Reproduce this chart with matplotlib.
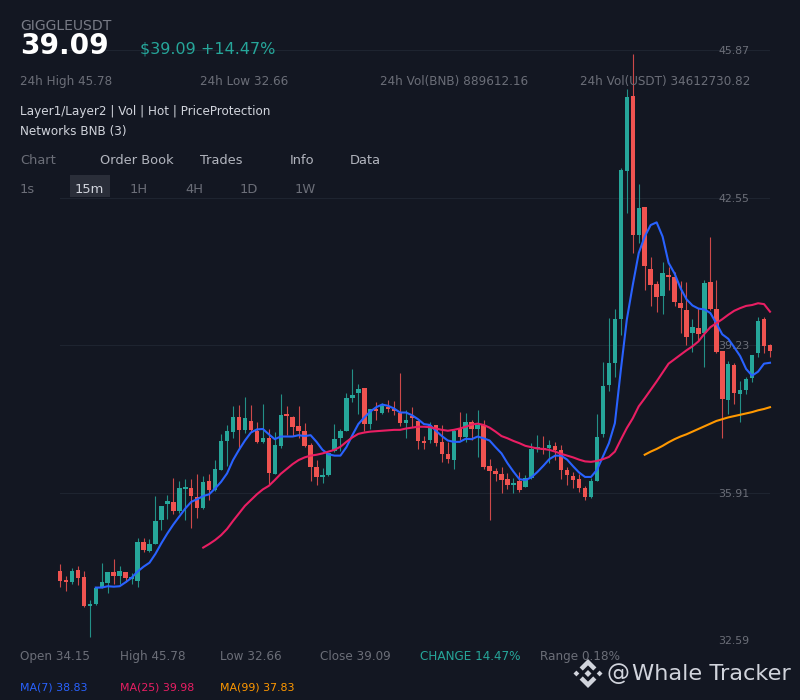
import matplotlib
matplotlib.use("Agg")
import matplotlib.pyplot as plt
from matplotlib.patches import Polygon, Rectangle
import numpy as np

BG = "#131722"
UP = "#26a69a"
DOWN = "#ef5350"
MA7_C = "#2962ff"
MA25_C = "#e91e63"
MA99_C = "#ff9800"

opens = [34.14,33.92,33.90,34.16,34.01,33.36,33.39,33.79,33.87,34.11,34.02,34.11,33.97,33.92,34.80,34.59,34.76,35.29,35.64,35.70,
 35.49,35.99,36.01,35.80,35.55,36.18,35.97,36.42,37.08,37.27,37.62,37.32,37.52,37.29,37.05,37.14,36.33,36.96,37.65,37.61,
 37.41,37.29,36.99,36.48,36.26,36.30,36.84,37.14,37.30,38.03,38.15,38.27,37.45,37.77,37.71,37.84,37.77,37.69,37.48,37.62,
 37.52,37.07,37.09,37.43,37.05,36.78,36.64,37.34,37.15,37.50,37.33,37.44,36.50,36.39,36.32,36.21,36.09,36.18,36.04,36.23,
 36.89,36.91,36.91,36.95,36.87,36.41,36.29,36.22,36.01,35.81,36.18,37.23,38.34,38.82,39.82,43.14,44.83,41.71,42.33,40.94,
 40.61,40.34,40.81,40.75,40.18,40.01,39.50,39.61,39.51,40.64,40.04,39.09,38.00,38.78,38.12,38.22,38.48,39.04,39.82,39.22]
highs = [34.29,34.04,34.20,34.25,34.14,33.50,33.77,34.32,34.12,34.41,34.26,34.13,34.09,34.89,34.88,34.86,35.82,35.61,35.85,36.23,
 36.18,36.21,36.21,36.32,36.28,36.33,36.64,37.23,37.44,37.86,37.89,38.05,37.88,37.50,37.90,37.33,37.28,38.12,37.86,37.63,
 37.86,37.47,37.02,36.64,36.46,36.81,37.45,37.33,38.16,38.70,38.35,38.27,37.80,37.94,37.92,37.99,37.96,38.59,37.77,37.83,
 37.54,37.18,37.50,37.44,37.43,37.05,37.34,37.73,37.71,37.54,37.77,37.54,36.66,36.46,36.48,36.34,36.23,36.38,36.30,37.02,
 37.21,37.19,37.10,37.04,36.98,36.48,36.38,36.33,36.05,36.23,37.68,38.84,39.83,40.04,43.21,44.99,45.78,42.85,42.34,41.22,
 40.66,41.09,40.98,40.88,40.66,40.64,39.82,40.06,40.70,41.65,40.70,39.10,38.86,38.82,38.41,38.52,39.01,39.86,39.86,39.26]
lows = [33.79,33.70,33.85,33.83,33.34,32.66,33.38,33.77,33.65,33.85,33.85,33.90,33.85,33.79,34.56,34.58,34.75,35.07,35.31,35.42,
 35.44,35.29,35.11,35.33,35.53,35.74,35.95,36.42,36.51,37.14,36.90,37.24,37.28,37.02,37.02,36.10,36.33,36.92,37.20,37.18,
 37.13,36.93,36.18,36.08,36.12,36.28,36.83,36.85,37.30,37.95,37.68,37.29,37.34,37.54,37.68,37.73,37.65,37.41,37.14,37.39,
 36.88,36.88,37.03,36.96,36.60,36.57,36.43,37.09,37.05,37.09,36.72,36.45,35.29,36.18,35.89,36.00,35.91,35.93,36.03,36.21,
 36.83,36.78,36.57,36.65,36.21,36.08,36.01,35.93,35.75,35.78,36.18,37.17,38.20,38.51,39.46,42.19,41.30,41.53,40.46,40.11,
 39.98,39.92,40.46,40.11,39.51,39.22,39.08,39.32,38.73,40.02,39.06,37.13,37.67,37.91,37.49,38.12,38.39,38.97,39.06,38.97]
closes = [33.92,33.90,34.14,33.99,33.36,33.38,33.75,33.89,34.11,34.03,34.14,33.98,33.99,34.80,34.62,34.74,35.27,35.61,35.72,35.49,
 36.01,36.03,35.82,35.56,36.14,35.96,36.45,37.06,37.29,37.62,37.32,37.59,37.32,37.05,37.14,36.35,36.98,37.65,37.63,37.38,
 37.30,36.96,36.49,36.27,36.28,36.79,37.12,37.30,38.04,38.10,38.24,37.46,37.78,37.74,37.86,37.78,37.74,37.47,37.55,37.59,
 37.08,37.02,37.43,37.03,36.77,36.66,37.30,37.15,37.49,37.33,37.42,36.49,36.39,36.33,36.20,36.08,36.12,35.97,36.23,36.90,
 36.91,36.87,36.98,36.86,36.42,36.30,36.20,36.01,35.81,36.16,37.16,38.30,38.82,39.82,43.18,44.81,41.71,42.32,41.00,40.59,
 40.32,40.85,40.75,40.19,40.06,39.42,39.63,39.48,40.62,40.05,39.07,38.01,38.80,38.14,38.21,38.46,39.00,39.76,39.20,39.09]

ma7 = [33.77,33.77,33.80,33.79,33.80,33.89,33.99,34.13,34.24,34.33,34.53,34.77,34.99,35.19,35.37,35.55,35.70,35.76,35.83,35.87,
 36.00,36.15,36.34,36.64,36.87,37.08,37.26,37.33,37.34,37.22,37.11,37.17,37.17,37.17,37.20,37.18,37.20,37.05,36.87,36.77,
 36.74,36.74,36.93,37.20,37.45,37.60,37.73,37.83,37.89,37.86,37.80,37.71,37.71,37.65,37.56,37.45,37.43,37.30,37.18,37.08,
 37.05,37.05,37.12,37.11,37.17,37.13,37.08,36.93,36.79,36.57,36.38,36.21,36.19,36.25,36.37,36.51,36.66,36.74,36.74,36.65,
 36.50,36.36,36.26,36.26,36.42,36.72,37.02,37.47,38.67,39.80,40.58,41.30,41.67,41.93,41.99,41.67,41.08,40.84,40.51,40.26,
 40.12,40.05,40.03,39.95,39.72,39.47,39.37,39.18,38.98,38.69,38.54,38.63,38.81,38.83]
ma25 = [34.67,34.75,34.84,34.95,35.09,35.27,35.44,35.61,35.74,35.87,35.98,36.06,36.19,36.33,36.44,36.55,36.64,36.70,36.74,36.76,
 36.79,36.83,36.87,36.94,37.05,37.15,37.23,37.26,37.28,37.29,37.30,37.31,37.32,37.32,37.35,37.37,37.39,37.39,37.38,37.35,
 37.32,37.30,37.32,37.35,37.39,37.44,37.46,37.43,37.37,37.28,37.18,37.13,37.07,37.02,36.96,36.93,36.90,36.89,36.87,36.83,
 36.78,36.74,36.70,36.65,36.61,36.60,36.62,36.66,36.71,36.83,37.10,37.36,37.58,37.85,38.03,38.22,38.41,38.61,38.81,38.91,
 39.01,39.11,39.20,39.31,39.48,39.63,39.72,39.81,39.91,40.00,40.06,40.11,40.13,40.17,40.15,39.98]
ma99 = [36.76,36.83,36.89,36.96,37.04,37.11,37.17,37.22,37.28,37.34,37.40,37.46,37.52,37.56,37.60,37.63,37.66,37.69,37.72,37.76,37.79,37.83]

price_ticks = [32.59, 35.91, 39.23, 42.55, 45.87]


def px(size):
    return size * 0.72


fig = plt.figure(figsize=(8, 7), dpi=100, facecolor=BG)
ax = fig.add_axes([60 / 800, 1 - 640 / 700, 710 / 800, 590 / 700])
ax.set_facecolor("none")
n = len(opens)
xs = np.arange(n)
ax.set_xlim(0, n - 1)
ax.set_ylim(price_ticks[0], price_ticks[-1])
for s in ax.spines.values():
    s.set_visible(False)
ax.set_xticks([])
ax.set_yticks(price_ticks)
ax.set_yticklabels([f"{p:.2f}" for p in price_ticks])
ax.yaxis.tick_right()
ax.tick_params(axis="y", length=0, pad=-37, labelsize=px(11), labelcolor="#6b6e78")
ax.set_axisbelow(True)
ax.grid(axis="y", color="#1e2430", lw=0.8)

o, h, l, c = map(np.array, (opens, highs, lows, closes))
colors = [UP if ci >= oi else DOWN for oi, ci in zip(o, c)]
ax.vlines(xs, l, h, colors=colors, lw=0.8, alpha=0.85, zorder=2, clip_on=False)
ax.bar(xs, np.maximum(np.abs(c - o), 0.04), bottom=np.minimum(o, c), width=0.75,
       color=colors, zorder=3, clip_on=False)
ax.plot(xs[6:], ma7, color=MA7_C, lw=1.5, zorder=5, clip_on=False, solid_joinstyle="round")
ax.plot(xs[24:], ma25, color=MA25_C, lw=1.5, zorder=5, clip_on=False, solid_joinstyle="round")
ax.plot(xs[98:], ma99, color=MA99_C, lw=1.5, zorder=5, clip_on=False, solid_joinstyle="round")

ov = fig.add_axes([0, 0, 1, 1], facecolor="none")
ov.set_xlim(0, 800)
ov.set_ylim(700, 0)
ov.axis("off")


def label(x, y, s, size, color, weight="normal"):
    ov.text(x, y, s, fontsize=px(size), color=color, fontweight=weight, va="baseline", ha="left")


GRAY = "#6b6e78"
GRAY2 = "#787b86"
LIGHT = "#d1d4dc"
label(20, 30, "GIGGLEUSDT", 14, GRAY2)
label(20, 54, "39.09", 28, "#ffffff", "bold")
label(140, 54, "$39.09 +14.47%", 16, UP)
for x, s in [(20, "24h High 45.78"), (200, "24h Low 32.66"),
             (380, "24h Vol(BNB) 889612.16"), (580, "24h Vol(USDT) 34612730.82")]:
    label(x, 85.3, s, 12, GRAY)
label(20, 115.3, "Layer1/Layer2 | Vol | Hot | PriceProtection", 12, LIGHT)
label(20, 135.3, "Networks BNB (3)", 12, LIGHT)
label(20, 164.4, "Chart", 13, GRAY)
for x, s in [(100, "Order Book"), (200, "Trades"), (290, "Info"), (350, "Data")]:
    label(x, 164.4, s, 13, "#b2b5be")
ov.add_patch(Rectangle((70, 175), 40, 22, facecolor="#2a2e39", edgecolor="none"))
for x, s, col in [(20, "1s", GRAY), (75, "15m", LIGHT), (130, "1H", GRAY),
                  (185, "4H", GRAY), (240, "1D", GRAY), (295, "1W", GRAY)]:
    label(x, 192.6, s, 13, col)
for x, s, col in [(20, "Open 34.15", GRAY), (120, "High 45.78", GRAY), (220, "Low 32.66", GRAY),
                  (320, "Close 39.09", GRAY), (420, "CHANGE 14.47%", UP), (540, "Range 0.18%", GRAY)]:
    label(x, 660.3, s, 12, col)
for x, s, col in [(20, "MA(7) 38.83", MA7_C), (120, "MA(25) 39.98", MA25_C), (220, "MA(99) 37.83", MA99_C)]:
    label(x, 690, s, 11, col)

# watermark logo
cx, cy, R = 588, 673.5, 14.5
logo_col = "#d1d4dc"
def diamond(dx, dy, hw):
    return [(cx + (dx + a) * R, cy - (dy + b) * R) for a, b in [(0, hw), (hw, 0), (0, -hw), (-hw, 0)]]
chev = [(0, 1), (0.58, 0.42), (0.36, 0.2), (0, 0.56), (-0.36, 0.2), (-0.58, 0.42)]
ov.add_patch(Polygon([(cx + a * R, cy - b * R) for a, b in chev], fc=logo_col, ec="none"))
ov.add_patch(Polygon([(cx + a * R, cy + b * R) for a, b in chev], fc=logo_col, ec="none"))
ov.add_patch(Polygon(diamond(0, 0, 0.24), fc=logo_col, ec="none"))
ov.add_patch(Polygon(diamond(-0.8, 0, 0.2), fc=logo_col, ec="none"))
ov.add_patch(Polygon(diamond(0.8, 0, 0.2), fc=logo_col, ec="none"))
label(607, 680.5, "@", 23, logo_col)
label(631.5, 680.5, "Whale Tracker", 22.5, logo_col)

fig.savefig("out.png", dpi=100, facecolor=BG)
